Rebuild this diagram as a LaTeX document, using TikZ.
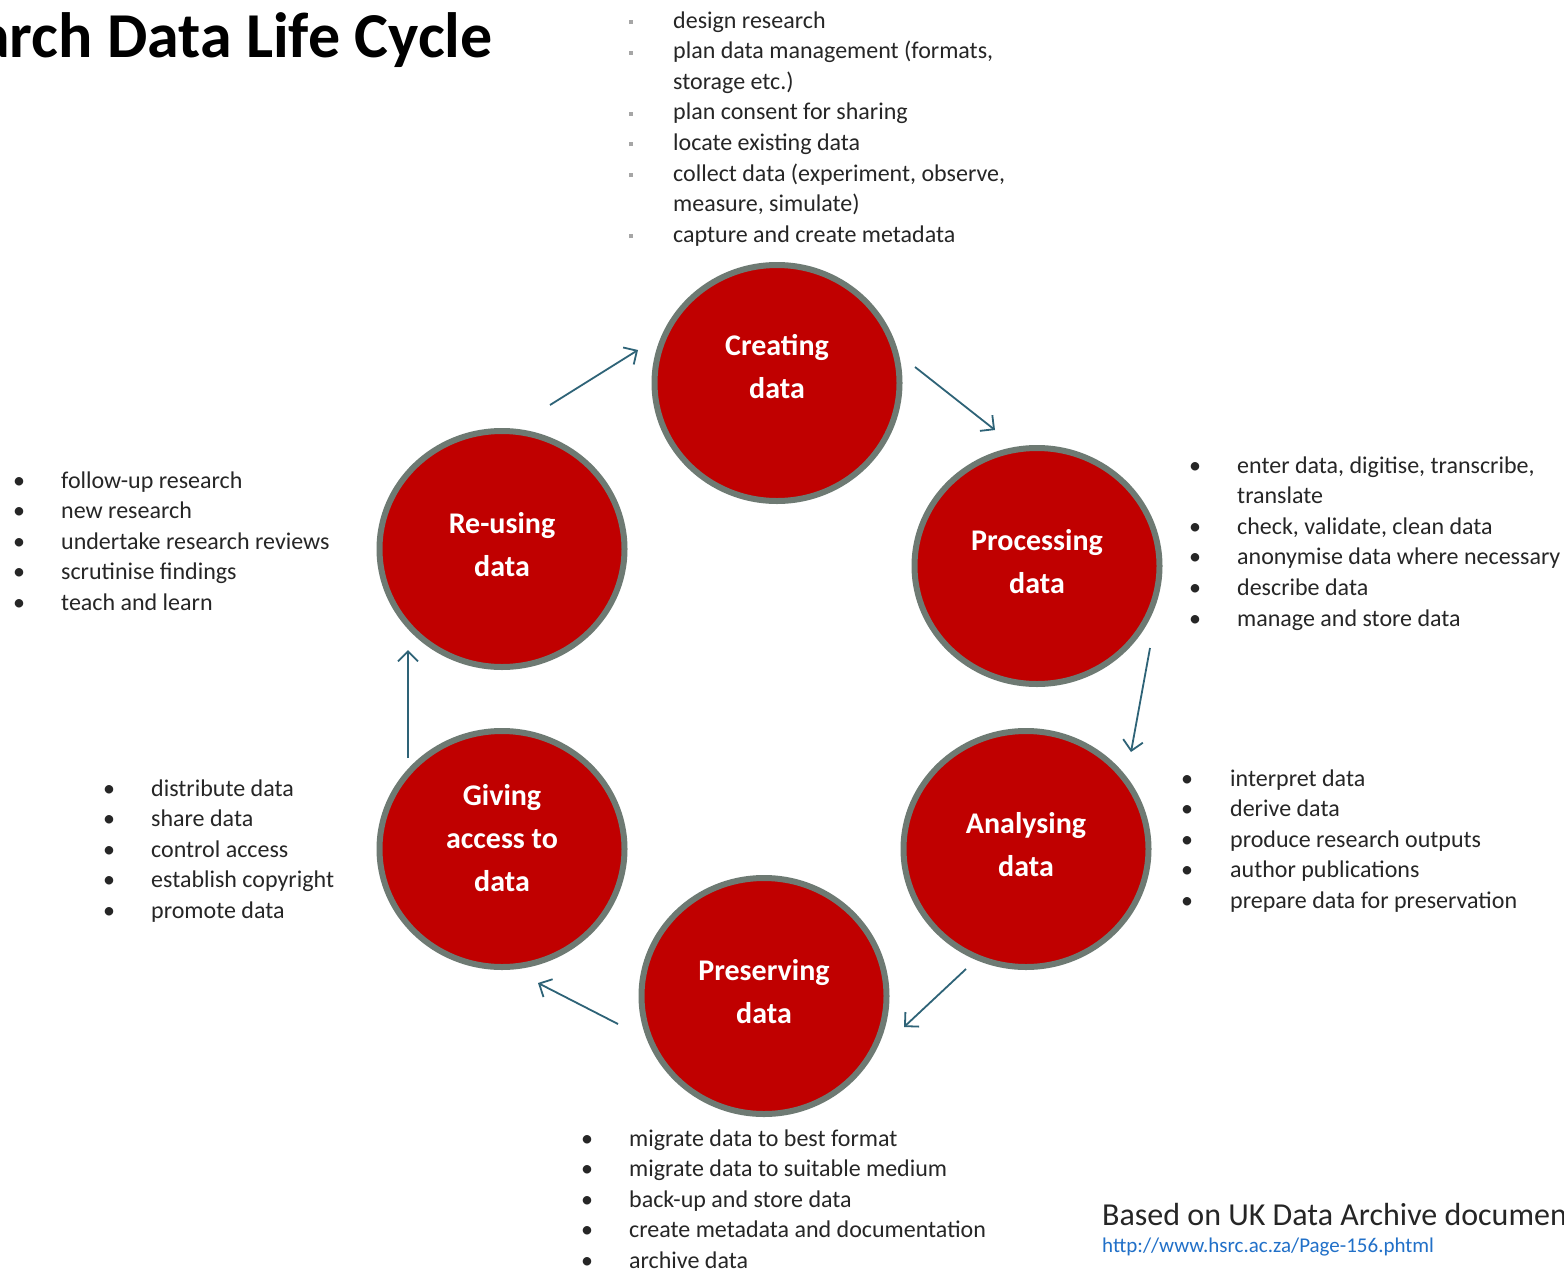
\documentclass[tikz,border=0pt]{standalone}
\usepackage{fontspec}
\setmainfont{Carlito}
\usetikzlibrary{shapes.geometric,arrows.meta}
\definecolor{cred}{HTML}{C00000}
\definecolor{cring}{HTML}{6E7A73}
\definecolor{carrow}{HTML}{2E6377}
\definecolor{ctext}{HTML}{262626}
\definecolor{curl}{HTML}{2170C8}
\definecolor{csq}{HTML}{A6A6A6}
\newcommand\sqb{\textcolor{csq}{\rule[4pt]{4pt}{4pt}}}
\tikzset{
 circ/.style={ellipse, fill=cred, draw=cring, line width=6pt, minimum width=245pt, minimum height=236pt, inner sep=0pt},
 lbl/.style={text=white, font=\fontsize{30}{43}\selectfont\bfseries, align=center, inner sep=0pt},
 blist/.style={anchor=base west, inner sep=0pt, text=ctext, font=\fontsize{24}{30.6}\selectfont},
 flow/.style={draw=carrow, line width=1.8pt, -{Straight Barb[length=10pt,width=20pt]}},
}
\begin{document}
\begin{tikzpicture}[x=1pt,y=-1pt]
\useasboundingbox (0,0) rectangle (1564,1269);
\clip (0,0) rectangle (1564,1269);
\fill[white] (0,0) rectangle (1564,1269);

% title
\node[anchor=base east, inner sep=0pt, font=\fontsize{64}{70}\selectfont\bfseries] (title) at (493,57) {Research Data Life Cycle};

% circles
\node[circ] (cre) at (777,383) {};
\node[circ] (pro) at (1037,566) {};
\node[circ] (ana) at (1026,849) {};
\node[circ] (pre) at (764,996) {};
\node[circ] (giv) at (502,849) {};
\node[circ] (reu) at (502,549) {};

\node[lbl, yshift=16pt] (crel) at (cre) {Creating\\data};
\node[lbl, yshift=4pt] (prol) at (pro) {Processing\\data};
\node[lbl, yshift=4pt] (anal) at (ana) {Analysing\\data};
\node[lbl, yshift=4pt] (prel) at (pre) {Preserving\\data};
\node[lbl, yshift=11pt] (givl) at (giv) {Giving\\access to\\data};
\node[lbl, yshift=4pt] (reul) at (reu) {Re-using\\data};

% arrows
\coordinate (a1s) at (550,405); \coordinate (a1e) at (638,350);
\coordinate (a2s) at (915,367); \coordinate (a2e) at (995,430);
\coordinate (a3s) at (1150,648); \coordinate (a3e) at (1131,752);
\coordinate (a4s) at (966,969); \coordinate (a4e) at (904,1027);
\coordinate (a5s) at (618,1024); \coordinate (a5e) at (538,983);
\coordinate (a6s) at (408,758); \coordinate (a6e) at (408,650);
\draw[flow] (a1s) -- (a1e);
\draw[flow] (a2s) -- (a2e);
\draw[flow] (a3s) -- (a3e);
\draw[flow] (a4s) -- (a4e);
\draw[flow] (a5s) -- (a5e);
\draw[flow] (a6s) -- (a6e);

% lists
\node[blist] (lcre) at (629,28) {\begin{tabular}[t]{@{}p{44pt}@{}l@{}}
\sqb & design research\\
\sqb & plan data management (formats,\\
 & storage etc.)\\
\sqb & plan consent for sharing\\
\sqb & locate existing data\\
\sqb & collect data (experiment, observe,\\
 & measure, simulate)\\
\sqb & capture and create metadata
\end{tabular}};

\node[blist] (lpro) at (1189,473) {\begin{tabular}[t]{@{}p{48pt}@{}l@{}}
• & enter data, digitise, transcribe,\\
 & translate\\
• & check,  validate, clean data\\
• & anonymise data where necessary\\
• & describe data\\
• & manage and store data
\end{tabular}};

\node[blist] (lana) at (1181,786) {\begin{tabular}[t]{@{}p{49pt}@{}l@{}}
• & interpret data\\
• & derive data\\
• & produce research outputs\\
• & author publications\\
• & prepare data for preservation
\end{tabular}};

\node[blist] (lpre) at (581,1146) {\begin{tabular}[t]{@{}p{48pt}@{}l@{}}
• & migrate data to best format\\
• & migrate data to suitable medium\\
• & back-up and store data\\
• & create metadata and documentation\\
• & archive data
\end{tabular}};

\node[blist] (lreu) at (13,488) {\begin{tabular}[t]{@{}p{48pt}@{}l@{}}
• & follow-up research\\
• & new research\\
• & undertake research reviews\\
• & scrutinise findings\\
• & teach and learn
\end{tabular}};

\node[blist] (lgiv) at (103,796) {\begin{tabular}[t]{@{}p{48pt}@{}l@{}}
• & distribute data\\
• & share data\\
• & control access\\
• & establish copyright\\
• & promote data
\end{tabular}};

% source
\node[anchor=base west, inner sep=0pt, font=\fontsize{32}{36}\selectfont, text=ctext] (src) at (1102,1225) {Based on UK Data Archive document};
\node[anchor=base west, inner sep=0pt, font=\fontsize{21}{24}\selectfont, text=curl] (url) at (1102,1252) {http://www.hsrc.ac.za/Page-156.phtml};
\end{tikzpicture}
\end{document}
